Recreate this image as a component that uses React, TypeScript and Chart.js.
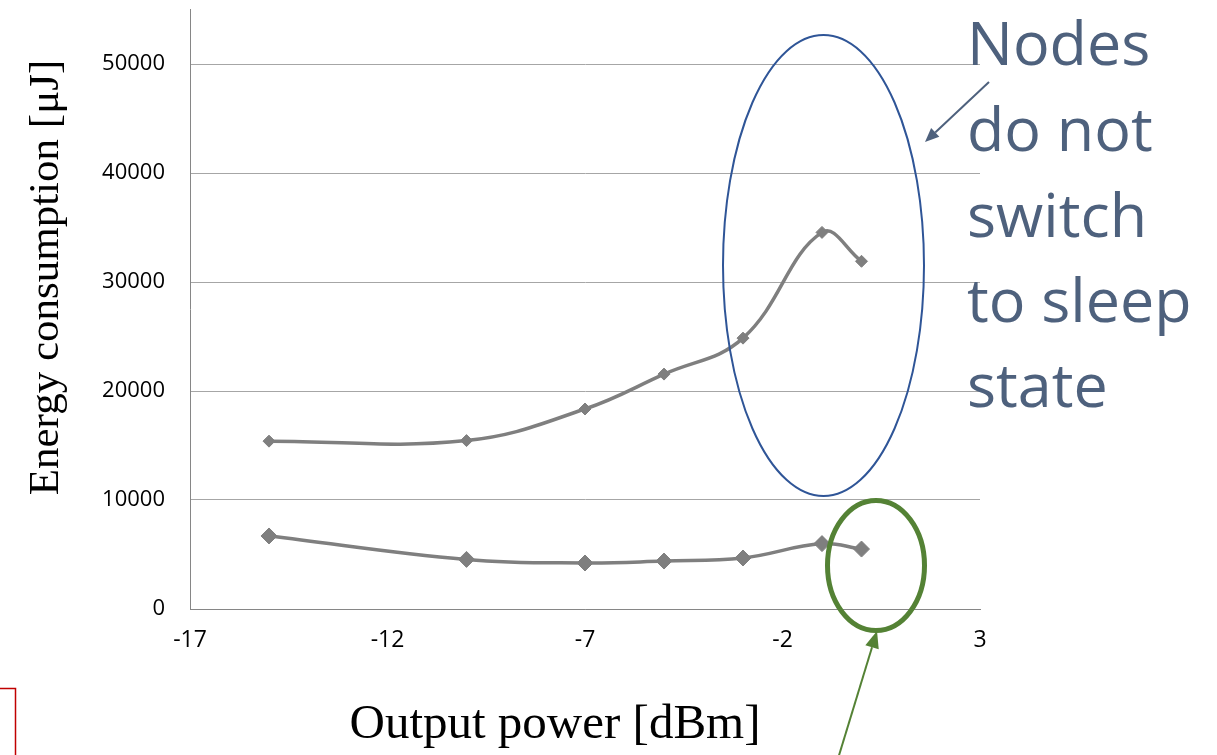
import React, { useEffect, useRef } from "react";
import { Chart, registerables } from "chart.js";

Chart.register(...registerables);

// ---- data ----
const outputPower = [-15, -10, -7, -5, -3, -1, 0];
const energyUpper = [15400, 15450, 18350, 21550, 24850, 34550, 31900];
const energyLower = [6700, 4550, 4220, 4400, 4680, 6000, 5500];
const xTicks = [-17, -12, -7, -2, 3];
const yTicks = [0, 10000, 20000, 30000, 40000, 50000];
const yAxisMax = 55000;
const xTitle = "Output power [dBm]";
const yTitle = "Energy consumption [\u03BCJ]";
const noteLines = ["Nodes", "do not", "switch", "to sleep", "state"];

const SERIES_COLOR = "#7f7f7f";

function drawArrow(
  ctx: CanvasRenderingContext2D,
  x1: number,
  y1: number,
  x2: number,
  y2: number,
  color: string,
  width: number,
  headLen: number,
  headW: number
) {
  const ang = Math.atan2(y2 - y1, x2 - x1);
  const bx = x2 - Math.cos(ang) * headLen;
  const by = y2 - Math.sin(ang) * headLen;
  ctx.save();
  ctx.strokeStyle = color;
  ctx.fillStyle = color;
  ctx.lineWidth = width;
  ctx.beginPath();
  ctx.moveTo(x1, y1);
  ctx.lineTo(bx, by);
  ctx.stroke();
  const px = -Math.sin(ang) * (headW / 2);
  const py = Math.cos(ang) * (headW / 2);
  ctx.beginPath();
  ctx.moveTo(x2, y2);
  ctx.lineTo(bx + px, by + py);
  ctx.lineTo(bx - px, by - py);
  ctx.closePath();
  ctx.fill();
  ctx.restore();
}

const annotationPlugin = {
  id: "annotations",
  afterDraw(chart: any) {
    const ctx: CanvasRenderingContext2D = chart.ctx;
    ctx.save();
    // axis titles
    ctx.fillStyle = "#000000";
    ctx.textAlign = "center";
    ctx.textBaseline = "alphabetic";
    ctx.font = '49px "Liberation Serif", "Times New Roman", serif';
    ctx.fillText(xTitle, 555, 738);
    ctx.font = '43px "Liberation Serif", "Times New Roman", serif';
    ctx.save();
    ctx.translate(58, 277.5);
    ctx.rotate(-Math.PI / 2);
    ctx.fillText(yTitle, 0, 0);
    ctx.restore();

    // blue ellipse
    ctx.strokeStyle = "#2f5597";
    ctx.lineWidth = 2;
    ctx.beginPath();
    ctx.ellipse(823.5, 265.5, 100.5, 230.5, 0, 0, Math.PI * 2);
    ctx.stroke();

    // green ellipse
    ctx.strokeStyle = "#548235";
    ctx.lineWidth = 5;
    ctx.beginPath();
    ctx.ellipse(876, 565.5, 48.5, 65, 0, 0, Math.PI * 2);
    ctx.stroke();

    // note text
    ctx.fillStyle = "#4e617d";
    ctx.font = '61px "Open Sans", sans-serif';
    ctx.textAlign = "left";
    const baselines = [65, 151, 237, 322, 407];
    noteLines.forEach((t, i) => ctx.fillText(t, 967, baselines[i]));

    // arrows
    drawArrow(ctx, 989, 82, 925, 142, "#4e617d", 2, 14, 12);
    drawArrow(ctx, 833, 775, 877, 631, "#548235", 2, 17, 14);

    // red box fragment
    ctx.strokeStyle = "#c00000";
    ctx.lineWidth = 1.5;
    ctx.strokeRect(-5, 688.5, 20.5, 90);
    ctx.restore();
  },
};

export default function App() {
  const canvasRef = useRef<HTMLCanvasElement | null>(null);

  useEffect(() => {
    if (!canvasRef.current) return;
    const mk = (ys: number[]) => outputPower.map((x, i) => ({ x, y: ys[i] }));
    const chart = new Chart(canvasRef.current, {
      type: "line",
      data: {
        datasets: [
          {
            label: "Upper",
            data: mk(energyUpper),
            borderColor: SERIES_COLOR,
            backgroundColor: SERIES_COLOR,
            borderWidth: 3.5,
            tension: 0.4,
            pointStyle: "rectRot",
            pointRadius: 6,
            pointBorderWidth: 1,
            pointBackgroundColor: SERIES_COLOR,
            pointBorderColor: SERIES_COLOR,
            fill: false,
          },
          {
            label: "Lower",
            data: mk(energyLower),
            borderColor: SERIES_COLOR,
            backgroundColor: SERIES_COLOR,
            borderWidth: 3.5,
            tension: 0.4,
            pointStyle: "rectRot",
            pointRadius: 8,
            pointBorderWidth: 1,
            pointBackgroundColor: SERIES_COLOR,
            pointBorderColor: SERIES_COLOR,
            fill: false,
          },
        ],
      },
      options: {
        animation: false,
        responsive: false,
        maintainAspectRatio: false,
        events: [],
        layout: { padding: { left: 0, right: 237, top: 9.5, bottom: 0 } },
        plugins: {
          legend: { display: false },
          tooltip: { enabled: false },
          title: { display: false },
        },
        scales: {
          x: {
            type: "linear",
            min: xTicks[0],
            max: xTicks[xTicks.length - 1],
            ticks: {
              padding: 18,
              color: "#000000",
              font: { family: '"Open Sans", sans-serif', size: 23 },
              maxRotation: 0,
              autoSkip: false,
              callback: (v: any) => String(v),
            },
            grid: { display: false, drawTicks: false },
            border: { display: true, color: "#868686", width: 1 },
            afterBuildTicks(scale: any) {
              scale.ticks = xTicks.map((v) => ({ value: v }));
            },
            afterFit(scale: any) {
              scale.height = 146;
              scale.paddingLeft = 0;
              scale.paddingRight = 0;
            },
          },
          y: {
            type: "linear",
            min: yTicks[0],
            max: yAxisMax,
            ticks: {
              padding: 25,
              color: "#000000",
              font: { family: '"Open Sans", sans-serif', size: 22 },
              autoSkip: false,
              callback: (v: any) => String(v),
            },
            grid: { color: "#a6a6a6", lineWidth: 1, drawTicks: false },
            border: { display: true, color: "#868686", width: 1 },
            afterBuildTicks(scale: any) {
              scale.ticks = yTicks.map((v) => ({ value: v }));
            },
            afterFit(scale: any) {
              scale.width = 190;
              scale.paddingTop = 0;
              scale.paddingBottom = 0;
            },
          },
        },
      },
      plugins: [annotationPlugin],
    });
    return () => chart.destroy();
  }, []);

  return (
    <div style={{ position: "fixed", left: 0, top: 0, width: 1217, height: 755, background: "#ffffff" }}>
      <canvas ref={canvasRef} width={1217} height={755} style={{ display: "block" }} />
    </div>
  );
}
